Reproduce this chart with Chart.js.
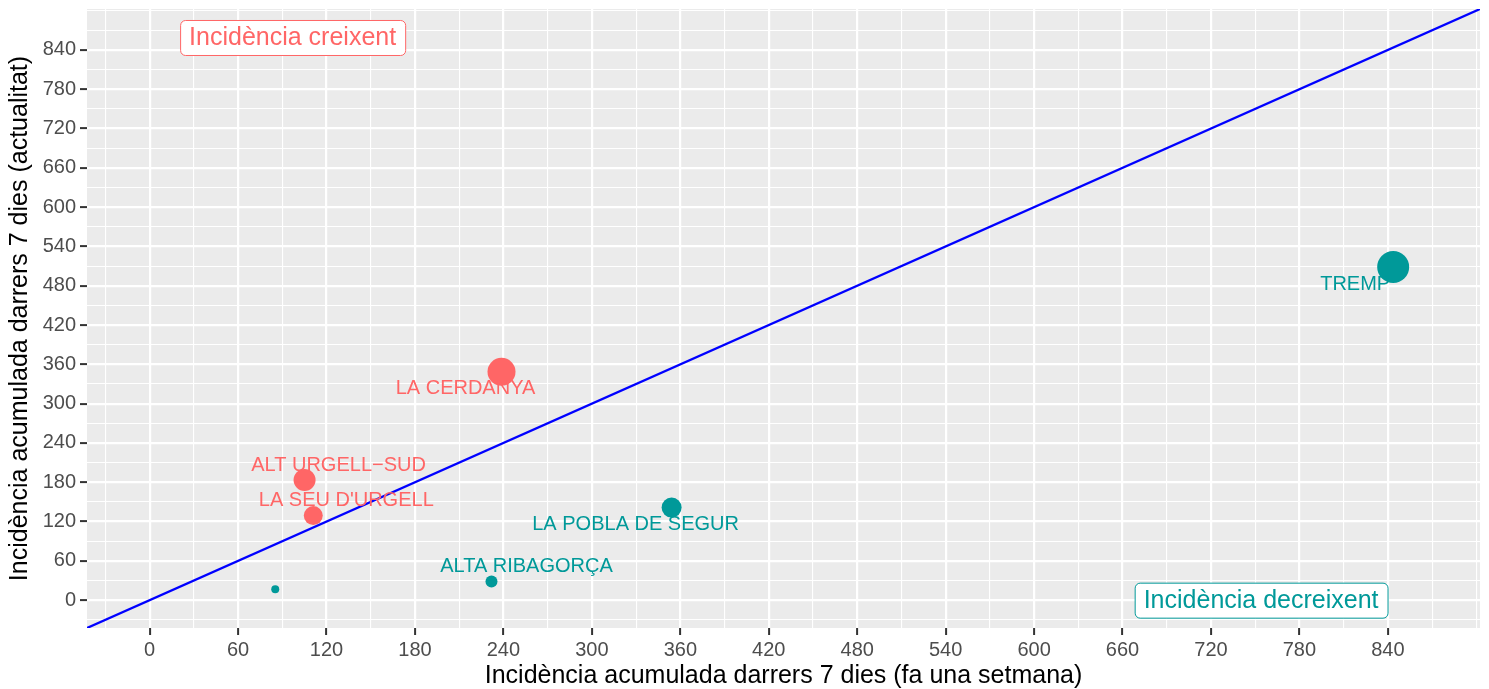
<!DOCTYPE html>
<html>
<head>
<meta charset="utf-8">
<script src="https://cdn.jsdelivr.net/npm/chart.js@4.4.1/dist/chart.umd.min.js"></script>
<style>
  html, body { margin: 0; padding: 0; background: #fff; }
  #wrap { width: 1489px; height: 689px; }
</style>
</head>
<body>
<div id="wrap"><canvas id="grafic" width="1489" height="689"></canvas></div>
<script>
// dades (llegides del gràfic)
const comarques = ['TREMP', 'LA CERDANYA', 'ALT URGELL\u2212SUD', "LA SEU D'URGELL", 'LA POBLA DE SEGUR', 'ALTA RIBAGORÇA', ''];
const faUnaSetmana = [843.6, 238.7, 105.1, 111.0, 354.1, 231.9, 85.2];
const actualitat = [508.7, 348.6, 183.4, 129.1, 141.3, 28.5, 16.8];
const mida = [256, 196, 121, 90, 100, 36, 16];
const ticksEixos = [0, 60, 120, 180, 240, 300, 360, 420, 480, 540, 600, 660, 720, 780, 840];
const limits = [-42.5, 902.5];

const VERMELL = '#FF6666';
const VERD = '#009999';
const FONT = '"Liberation Sans", Arial, Helvetica, sans-serif';

// on va cada etiqueta respecte del seu punt (px)
const desplEtiq = [[-38, 18], [-36, 17], [34, -15], [33, -15], [-36, 17], [35, -15], [0, 0]];

const caixes = [
  {text: 'Incidència creixent', x: 97, y: 859, color: VERMELL},
  {text: 'Incidència decreixent', x: 754, y: 0, color: VERD}
];

// línies de la graella: principals cada 60, secundàries al mig
const graella = [];
for (let v = -30; v <= 900; v += 30) graella.push(v);
const esMajor = v => ticksEixos.includes(v);

function colorPunt(i) {
  return actualitat[i] > faUnaSetmana[i] ? VERMELL : VERD;
}

const fonsPanell = {
  id: 'fonsPanell',
  beforeDraw(chart) {
    const {ctx, chartArea: a} = chart;
    ctx.save();
    ctx.fillStyle = '#EBEBEB';
    ctx.fillRect(a.left, a.top, a.right - a.left, a.bottom - a.top);
    ctx.restore();
  }
};

const etiquetes = {
  id: 'etiquetes',
  afterDatasetsDraw(chart) {
    const ctx = chart.ctx;
    const meta = chart.getDatasetMeta(0);
    ctx.save();
    ctx.font = '20px ' + FONT;
    ctx.textAlign = 'center';
    ctx.textBaseline = 'middle';
    meta.data.forEach((pt, i) => {
      if (!comarques[i]) return;
      ctx.fillStyle = colorPunt(i);
      ctx.fillText(comarques[i], pt.x + desplEtiq[i][0], pt.y + desplEtiq[i][1]);
    });

    // caixes d'anotació
    ctx.font = '25px ' + FONT;
    caixes.forEach(c => {
      const cx = chart.scales.x.getPixelForValue(c.x);
      const cy = chart.scales.y.getPixelForValue(c.y);
      const w = ctx.measureText(c.text).width + 18;
      const h = 35;
      ctx.beginPath();
      ctx.roundRect(cx - w / 2 + 0.5, cy - h / 2 + 0.5, w, h, 5);
      ctx.fillStyle = '#FFFFFF';
      ctx.fill();
      ctx.lineWidth = 1;
      ctx.strokeStyle = c.color;
      ctx.stroke();
      ctx.fillStyle = c.color;
      ctx.fillText(c.text, cx, cy + 1);
    });
    ctx.restore();
  }
};

function eix(titol, costat) {
  return {
    type: 'linear',
    min: limits[0],
    max: limits[1],
    afterBuildTicks: s => { s.ticks = graella.map(v => ({value: v})); },
    afterFit: s => {
      if (costat === 'x') s.height = 61; else s.width = 87;
      s.paddingTop = 0; s.paddingBottom = 0; s.paddingLeft = 0; s.paddingRight = 0;
    },
    ticks: {
      autoSkip: false,
      maxRotation: 0,
      color: '#4D4D4D',
      font: {family: FONT, size: 20},
      padding: costat === 'x' ? 3 : 4,
      callback: v => esMajor(v) ? String(v) : ''
    },
    grid: {
      color: '#FFFFFF',
      lineWidth: c => esMajor(c.tick.value) ? 2.2 : 1.1,
      tickColor: c => esMajor(c.tick.value) ? '#333333' : 'rgba(0,0,0,0)',
      tickLength: 7,
      tickWidth: 2
    },
    border: {display: false},
    title: {
      display: true,
      text: titol,
      color: '#000000',
      font: {family: FONT, size: 25, lineHeight: 1},
      padding: costat === 'x' ? {top: 0, bottom: 0} : {top: 7.5, bottom: 0}
    }
  };
}

const punts = comarques.map((c, i) => ({x: faUnaSetmana[i], y: actualitat[i], r: Math.sqrt(mida[i])}));

new Chart(document.getElementById('grafic'), {
  type: 'bubble',
  data: {
    datasets: [
      {
        type: 'bubble',
        data: punts,
        backgroundColor: punts.map((p, i) => colorPunt(i)),
        borderWidth: 0,
        order: 2
      },
      {
        type: 'line',
        data: limits.map(v => ({x: v, y: v})),
        borderColor: '#0000FF',
        borderWidth: 2.3,
        pointRadius: 0,
        fill: false,
        order: 1
      }
    ]
  },
  options: {
    responsive: false,
    animation: false,
    events: [],
    layout: {autoPadding: false, padding: {top: 9, right: 9, left: 0, bottom: 0}},
    plugins: {legend: {display: false}, tooltip: {enabled: false}},
    scales: {
      x: eix('Incidència acumulada darrers 7 dies (fa una setmana)', 'x'),
      y: eix('Incidència acumulada darrers 7 dies (actualitat)', 'y')
    }
  },
  plugins: [fonsPanell, etiquetes]
});
</script>
</body>
</html>
